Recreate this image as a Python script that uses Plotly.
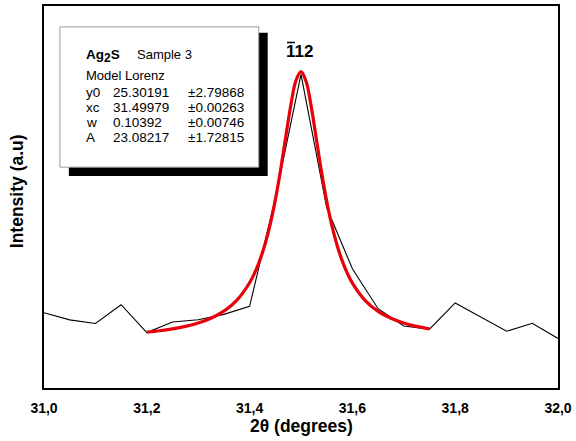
import plotly.graph_objects as go

# Measured XRD data (2theta, intensity a.u.)
two_theta = [31.00, 31.05, 31.10, 31.15, 31.20, 31.25, 31.30, 31.35, 31.40, 31.45,
             31.50, 31.55, 31.60, 31.65, 31.70, 31.75, 31.80, 31.85, 31.90, 31.95, 32.00]
intensity = [39.7, 35.9, 34.0, 43.9, 29.2, 34.8, 36.0, 38.8, 43.0, 100.0,
             165.3, 95.1, 62.8, 41.8, 32.7, 31.0, 44.8, 37.4, 29.9, 34.1, 26.1]

# Lorentz fit curve
fit_x = [31.200, 31.225, 31.250, 31.275, 31.300, 31.325, 31.350, 31.375, 31.400, 31.410,
         31.420, 31.430, 31.440, 31.450, 31.460, 31.470, 31.480, 31.490, 31.500, 31.510,
         31.520, 31.530, 31.540, 31.550, 31.560, 31.570, 31.580, 31.590, 31.600, 31.625,
         31.650, 31.675, 31.700, 31.725, 31.750]
fit_y = [29.42, 30.18, 31.17, 32.47, 34.26, 36.78, 40.49, 46.19, 55.46, 60.77,
         67.40, 75.72, 86.13, 99.01, 114.42, 131.71, 148.78, 161.86, 166.71, 161.47,
         148.15, 131.00, 113.76, 98.44, 85.67, 75.35, 67.11, 60.53, 55.27, 46.08,
         40.41, 36.73, 34.22, 32.45, 31.15]

tick_vals = [31.0, 31.2, 31.4, 31.6, 31.8, 32.0]
tick_text = ["31,0", "31,2", "31,4", "31,6", "31,8", "32,0"]

param_names = ["y0", "xc", "w", "A"]
param_values = ["25.30191", "31.49979", "0.10392", "23.08217"]
param_errors = ["\u00b12.79868", "\u00b10.00263", "\u00b10.00746", "\u00b11.72815"]

FONT = "Arial, Liberation Sans, sans-serif"

fig = go.Figure()
fig.add_trace(go.Scatter(x=two_theta, y=intensity, mode="lines",
                         line=dict(color="black", width=1.1), showlegend=False))
fig.add_trace(go.Scatter(x=fit_x, y=fit_y, mode="lines", line_shape="spline",
                         line=dict(color="#e8000b", width=3.2), showlegend=False))

# plot area geometry in pixels
L, R, T, B = 44, 561, 4, 388
W, H = R - L, B - T


def px(x):
    return (x - L) / W


def py(y):
    return (B - y) / H


shapes = []
# legend box shadow
shapes.append(dict(type="rect", xref="paper", yref="paper",
                   x0=px(69), x1=px(269), y0=py(175), y1=py(31),
                   fillcolor="black", line=dict(width=0), layer="above"))
# legend box
shapes.append(dict(type="rect", xref="paper", yref="paper",
                   x0=px(60), x1=px(260), y0=py(166), y1=py(25),
                   fillcolor="white", line=dict(color="#9a9a9a", width=1), layer="above"))
# overbar on the Miller index
shapes.append(dict(type="line", xref="paper", yref="paper",
                   x0=px(288.5), x1=px(296.5), y0=py(40.7), y1=py(40.7),
                   line=dict(color="black", width=1.6), layer="above"))

annotations = []


def note(x, y, text, size, anchor="left", angle=0):
    annotations.append(dict(xref="paper", yref="paper", x=px(x), y=py(y), text=text,
                            showarrow=False, xanchor=anchor, yanchor="middle",
                            textangle=angle, borderpad=0,
                            font=dict(family=FONT, size=size, color="black")))


note(85, 54, "<b>Ag<sub><span style='font-size:12px'>2</span></sub>S</b>", 13.5)
note(137, 53, "Sample 3", 13)
note(85, 74, "Model Lorenz", 13)
row_y = [90.5, 105.8, 121.1, 136.4]
for i in range(4):
    note(85, row_y[i], param_names[i], 13.5)
    note(112, row_y[i], param_values[i], 13.5)
    note(188, row_y[i], param_errors[i], 13.5)
note(286.5, 50, "<b>112</b>", 17)
# axis titles
note(302.5, 426, "<b>2\u03b8 (degrees)</b>", 17.5, anchor="center")
note(17, 190, "<b>Intensity (a.u)</b>", 17.5, anchor="center", angle=-90)

fig.update_layout(
    width=576, height=441,
    margin=dict(l=L, r=576 - R, t=T, b=441 - B),
    paper_bgcolor="white", plot_bgcolor="white",
    font=dict(family=FONT, color="black"),
    shapes=shapes, annotations=annotations,
    xaxis=dict(range=[31.0, 32.0], tickvals=tick_vals, ticktext=tick_text,
               showgrid=False, zeroline=False, showline=True, linecolor="black",
               linewidth=2, mirror=True, ticks="", ticklabelstandoff=6,
               tickfont=dict(family=FONT, size=14, color="black", weight="bold")),
    yaxis=dict(range=[0, 201.3], showticklabels=False, showgrid=False, zeroline=False,
               showline=True, linecolor="black", linewidth=2, mirror=True, ticks=""),
)

fig.write_html("out.html")
